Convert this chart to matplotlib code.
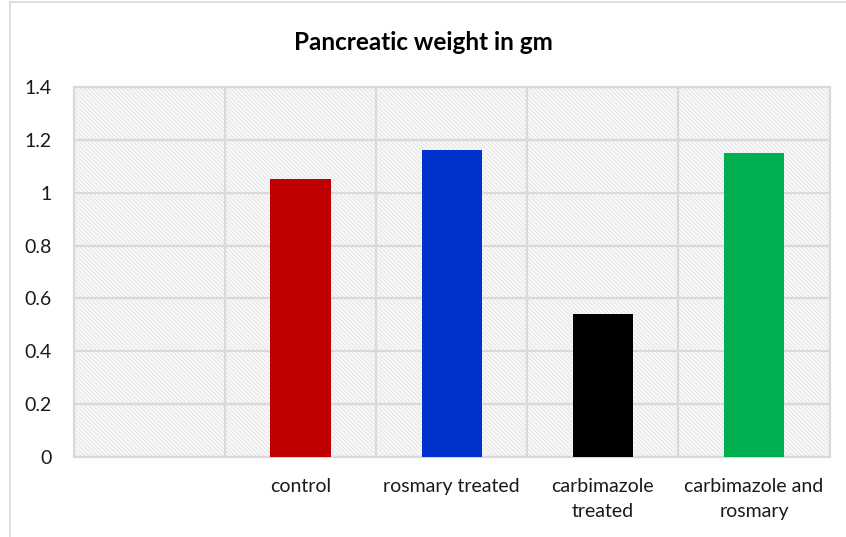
import matplotlib.pyplot as plt
import numpy as np

categories = ['', 'control', 'rosmary treated', 'carbimazole\ntreated', 'carbimazole and\nrosmary']
weights = [np.nan, 1.05, 1.16, 0.54, 1.15]
colors = ['white', '#c00000', '#0033cc', '#000000', '#00b050']
yticks = [0, 0.2, 0.4, 0.6, 0.8, 1, 1.2, 1.4]
ytick_labels = ['0', '0.2', '0.4', '0.6', '0.8', '1', '1.2', '1.4']

plt.rcParams['font.family'] = ['Lato', 'DejaVu Sans']
plt.rcParams['hatch.color'] = '#e6e6e6'
plt.rcParams['hatch.linewidth'] = 0.9

fig = plt.figure(figsize=(8.46, 5.37), dpi=100)
ax = fig.add_axes([0.0875, 0.149, 0.893, 0.689])

# outer chart border (only top and left visible in the picture)
fig.add_artist(plt.Line2D([10 / 846, 10 / 846], [0, 1 - 2 / 537], color='#d9d9d9', lw=1.2))
fig.add_artist(plt.Line2D([10 / 846, 1], [1 - 2 / 537, 1 - 2 / 537], color='#d9d9d9', lw=1.2))

x = np.arange(len(categories))
ax.set_xlim(-0.5, len(categories) - 0.5)
ax.set_ylim(0, 1.4)

# hatched plot background
ax.fill_between([-0.5, len(categories) - 0.5], 0, 1.4, facecolor='#fbfbfb',
                edgecolor='#e6e6e6', hatch='\\' * 8, lw=0, zorder=0)

ax.set_yticks(yticks)
ax.set_yticklabels(ytick_labels)
ax.set_xticks(np.arange(-0.5, len(categories)), minor=False)
ax.set_xticklabels([])
ax.set_xticks(x, minor=True)
ax.set_xticklabels(categories, minor=True, fontsize=14, color='#1a1a1a', linespacing=1.55)
ax.tick_params(axis='x', which='both', length=0, pad=15)
ax.tick_params(axis='y', length=0, labelsize=14, labelcolor='#1a1a1a', pad=16)

ax.grid(True, which='major', color='#d9d9d9', lw=1.6, zorder=1)
ax.set_axisbelow(True)

ax.bar(x, weights, width=0.4, color=colors, zorder=3)

for s in ax.spines.values():
    s.set_color('#d9d9d9')
    s.set_linewidth(1.6)

fig.text(0.5, 1 - 43 / 537, 'Pancreatic weight in gm', ha='center', va='center',
         fontsize=17.5, fontweight='bold', color='black')

fig.savefig('out.png', dpi=100)
